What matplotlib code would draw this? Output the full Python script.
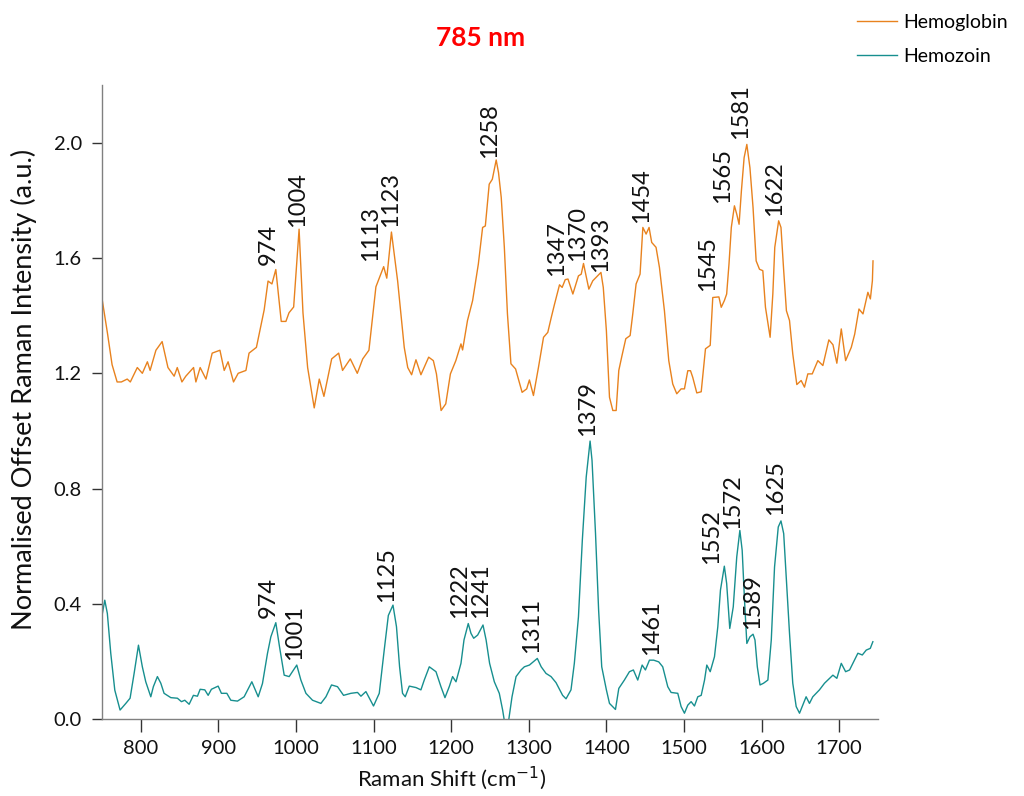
import matplotlib

matplotlib.use("Agg")
import matplotlib.pyplot as plt

plt.rcParams["font.family"] = ["Lato", "DejaVu Sans"]

# Hemoglobin spectrum (offset by ~1.2)
hb_shift = [
    750, 757, 763, 769.5, 775, 782.5, 786.5, 795.5, 802, 808.5, 812, 819.5,
    827.5, 835, 843, 847, 853, 858, 868, 871, 876.5, 884, 892, 902, 907.5,
    912.5, 919.5, 925.5, 935.5, 939.5, 949, 959, 964, 969, 974, 981, 987,
    991, 997, 1004, 1009, 1015, 1023.5, 1030, 1036, 1046, 1055, 1060, 1070,
    1079, 1086, 1094, 1103, 1113, 1117, 1123, 1131, 1135, 1139.5, 1144, 1149,
    1154.6, 1161, 1171, 1177, 1181, 1187, 1193, 1199, 1206, 1212.6, 1214.7,
    1221, 1227.6, 1235, 1240.5, 1244, 1249, 1253, 1258, 1261, 1264.5, 1268.5,
    1272.5, 1277, 1283, 1291.4, 1297.3, 1300.8, 1306, 1312.5, 1319, 1324.5,
    1329, 1333, 1339.6, 1343, 1347, 1350.5, 1356.8, 1364, 1367.6, 1370.5,
    1377.4, 1382.5, 1393, 1396, 1400, 1404, 1408.3, 1412.6, 1416, 1420, 1425,
    1430.6, 1434, 1438.3, 1443.4, 1447, 1451.2, 1455, 1458.4, 1464, 1468.4,
    1474.8, 1480.4, 1485.5, 1490.7, 1496.3, 1500.6, 1504.9, 1508.4, 1511.3,
    1516.5, 1522.2, 1527.7, 1533.8, 1537.1, 1545, 1548, 1552, 1555, 1558,
    1561, 1565, 1568, 1571, 1574, 1577.5, 1581, 1585, 1589, 1593, 1597.3,
    1601.6, 1605, 1611, 1614.5, 1617, 1622, 1625, 1628.5, 1632, 1636, 1640.2,
    1645.4, 1651, 1655.3, 1659.6, 1665.3, 1672.5, 1679, 1686.7, 1692, 1697,
    1702.7, 1708.3, 1715.6, 1720, 1725.5, 1730.7, 1737, 1740.2, 1742.8, 1743.6,
]
hb_intensity = [
    1.46, 1.34, 1.23, 1.17, 1.17, 1.18, 1.17, 1.22, 1.20, 1.24, 1.21, 1.28,
    1.31, 1.22, 1.19, 1.22, 1.17, 1.19, 1.22, 1.17, 1.22, 1.18, 1.27, 1.28,
    1.21, 1.24, 1.17, 1.20, 1.21, 1.27, 1.29, 1.42, 1.52, 1.51, 1.56, 1.38,
    1.38, 1.41, 1.43, 1.70, 1.41, 1.22, 1.08, 1.18, 1.12, 1.25, 1.27, 1.21,
    1.25, 1.20, 1.25, 1.28, 1.50, 1.57, 1.53, 1.69, 1.52, 1.41, 1.29, 1.22,
    1.195, 1.247, 1.195, 1.256, 1.244, 1.198, 1.071, 1.094, 1.198, 1.244,
    1.302, 1.281, 1.383, 1.452, 1.579, 1.706, 1.711, 1.856, 1.873, 1.94,
    1.896, 1.81, 1.637, 1.406, 1.233, 1.215, 1.134, 1.146, 1.177, 1.123,
    1.221, 1.325, 1.342, 1.394, 1.438, 1.507, 1.498, 1.525, 1.527, 1.475,
    1.538, 1.544, 1.581, 1.492, 1.521, 1.550, 1.498, 1.348, 1.117, 1.071,
    1.071, 1.21, 1.26, 1.32, 1.331, 1.406, 1.51, 1.544, 1.706, 1.683, 1.706,
    1.654, 1.637, 1.567, 1.417, 1.244, 1.163, 1.129, 1.146, 1.146, 1.209,
    1.209, 1.186, 1.132, 1.136, 1.285, 1.297, 1.463, 1.465, 1.429, 1.452,
    1.475, 1.579, 1.706, 1.781, 1.752, 1.717, 1.833, 1.948, 1.994, 1.913,
    1.775, 1.59, 1.561, 1.556, 1.429, 1.325, 1.475, 1.637, 1.729, 1.706,
    1.556, 1.417, 1.383, 1.267, 1.161, 1.175, 1.152, 1.198, 1.198, 1.244,
    1.227, 1.316, 1.299, 1.235, 1.354, 1.244, 1.290, 1.336, 1.423, 1.406,
    1.481, 1.458, 1.521, 1.590,
]

# Hemozoin spectrum
hz_shift = [
    750.5, 753.6, 756.9, 761.3, 766.5, 773.3, 780.7, 786.2, 791.4, 797, 802,
    806.4, 812.9, 816.2, 821.4, 825.8, 830, 838.7, 847.2, 852.4, 856.7, 862.3,
    867.8, 873, 876.5, 882.5, 886.8, 891, 899.7, 903.9, 910.9, 916, 924.6,
    933.2, 943.1, 951.3, 956.8, 963.3, 967.6, 974, 978.8, 984.8, 991.2,
    996.8, 1001, 1006.3, 1012.8, 1021.3, 1032.1, 1038.6, 1045.8, 1053.5,
    1061.3, 1070.8, 1079.3, 1083.7, 1090.1, 1099.9, 1107.3, 1113.7, 1119,
    1125, 1129.5, 1133.5, 1137.3, 1140.8, 1146, 1154.6, 1161, 1165.3, 1171.8,
    1180.4, 1186.8, 1192, 1197.5, 1201.8, 1206.2, 1212.6, 1216.5, 1222,
    1225.5, 1229, 1234.1, 1241, 1245, 1249.5, 1255.6, 1262, 1266.3, 1268.5,
    1274, 1278.4, 1283.6, 1290, 1294.3, 1300.8, 1311, 1316, 1322.2, 1328.7,
    1335.1, 1343.6, 1348, 1354.4, 1358.7, 1364, 1369, 1374, 1379, 1381.5,
    1386, 1390, 1394, 1400, 1404, 1411.7, 1416, 1423.2, 1429.7, 1434.8,
    1440.4, 1446.1, 1450.3, 1455.5, 1461, 1467.5, 1472.6, 1479.1, 1483.4,
    1492, 1496.3, 1500.6, 1504.9, 1509.2, 1513.5, 1517.8, 1522.2, 1526.5,
    1529.4, 1533.8, 1539.3, 1543.6, 1547, 1552, 1555, 1559, 1563.5, 1568,
    1572, 1575, 1578, 1581, 1585, 1589, 1591.5, 1594.5, 1598, 1602.5, 1608.1,
    1612.5, 1616.7, 1621.5, 1625, 1628.5, 1632, 1636, 1640.2, 1644.6, 1648.9,
    1653.1, 1657.4, 1661.7, 1666, 1674.6, 1681.1, 1685.4, 1691.9, 1697,
    1702.7, 1708.3, 1713.4, 1718.6, 1724.1, 1729.8, 1734.9, 1740.1, 1743.4,
]
hz_intensity = [
    0.367, 0.413, 0.367, 0.229, 0.101, 0.032, 0.055, 0.073, 0.159, 0.257,
    0.182, 0.130, 0.078, 0.113, 0.148, 0.125, 0.090, 0.075, 0.073, 0.061,
    0.066, 0.052, 0.083, 0.080, 0.104, 0.102, 0.083, 0.104, 0.115, 0.090,
    0.090, 0.066, 0.063, 0.078, 0.130, 0.078, 0.124, 0.229, 0.286, 0.335,
    0.251, 0.153, 0.148, 0.171, 0.188, 0.136, 0.090, 0.066, 0.055, 0.078,
    0.119, 0.113, 0.083, 0.090, 0.093, 0.080, 0.096, 0.046, 0.090, 0.240,
    0.36, 0.396, 0.321, 0.182, 0.090, 0.078, 0.115, 0.110, 0.102, 0.136,
    0.182, 0.165, 0.113, 0.075, 0.113, 0.148, 0.130, 0.194, 0.275, 0.332,
    0.298, 0.281, 0.292, 0.327, 0.275, 0.194, 0.130, 0.090, 0.032, -0.005,
    -0.005, 0.078, 0.148, 0.171, 0.182, 0.188, 0.211, 0.182, 0.159, 0.148,
    0.127, 0.083, 0.071, 0.102, 0.194, 0.355, 0.621, 0.840, 0.965, 0.898,
    0.644, 0.378, 0.182, 0.102, 0.055, 0.034, 0.107, 0.136, 0.165, 0.171,
    0.136, 0.188, 0.171, 0.205, 0.205, 0.199, 0.182, 0.113, 0.093, 0.090,
    0.044, 0.021, 0.049, 0.061, 0.046, 0.078, 0.083, 0.136, 0.188, 0.165,
    0.217, 0.321, 0.448, 0.531, 0.471, 0.315, 0.390, 0.563, 0.655, 0.586,
    0.413, 0.263, 0.286, 0.295, 0.275, 0.182, 0.119, 0.125, 0.136, 0.275,
    0.528, 0.667, 0.688, 0.644, 0.482, 0.298, 0.125, 0.044, 0.021, 0.049,
    0.078, 0.055, 0.078, 0.102, 0.125, 0.136, 0.153, 0.142, 0.194, 0.165,
    0.171, 0.199, 0.229, 0.223, 0.240, 0.246, 0.269,
]

# peak annotations: (label, x, y) with y at the bottom of the rotated text
hb_peaks = [
    ("974", 964, 1.575), ("1004", 1001.5, 1.708), ("1113", 1096.6, 1.59),
    ("1123", 1121.2, 1.708), ("1258", 1249.8, 1.948), ("1347", 1335.1, 1.538),
    ("1370", 1362.6, 1.59), ("1393", 1392, 1.55), ("1454", 1445.5, 1.72),
    ("1545", 1530.6, 1.484), ("1565", 1549.6, 1.792), ("1581", 1572.8, 2.012),
    ("1622", 1616.6, 1.746),
]
hz_peaks = [
    ("974", 964.8, 0.35), ("1001", 997.7, 0.205), ("1125", 1116.3, 0.407),
    ("1222", 1210.4, 0.35), ("1241", 1238.4, 0.35), ("1311", 1303.3, 0.229),
    ("1379", 1375.5, 0.981), ("1461", 1458.7, 0.223), ("1552", 1535.8, 0.54),
    ("1572", 1562.9, 0.661), ("1589", 1588, 0.312), ("1625", 1618.3, 0.707),
]

HB_COLOR = "#E8821E"
HZ_COLOR = "#178F8F"

fig = plt.figure(figsize=(10.24, 7.96), dpi=100)
ax = fig.add_axes([0.0996, 0.0964, 0.7578, 0.7968])

hb_line, = ax.plot(hb_shift, hb_intensity, color=HB_COLOR, linewidth=1.0)
hz_line, = ax.plot(hz_shift, hz_intensity, color=HZ_COLOR, linewidth=1.0)

for label, x, y in hb_peaks + hz_peaks:
    ax.text(x, y, label, rotation=90, ha="center", va="bottom", fontsize=17,
            color="#111111")

ax.set_xlim(750, 1750)
ax.set_ylim(0, 2.2)
ax.set_xticks(range(800, 1701, 100))
ax.set_yticks([0.0, 0.4, 0.8, 1.2, 1.6, 2.0])
ax.set_yticklabels(["0.0", "0.4", "0.8", "1.2", "1.6", "2.0"])

for side in ("top", "right"):
    ax.spines[side].set_visible(False)
for side in ("left", "bottom"):
    ax.spines[side].set_color("#808080")
    ax.spines[side].set_linewidth(1.0)
ax.tick_params(axis="both", direction="out", colors="#333333", labelsize=14.5,
               labelcolor="#111111", width=1.0)
ax.tick_params(axis="x", length=9, pad=6)
ax.tick_params(axis="y", length=7, pad=7.5)

ax.set_xlabel(r"Raman Shift (cm$^{-1}$)", fontsize=16, color="#111111")
ax.set_ylabel("Normalised Offset Raman Intensity (a.u.)", fontsize=19.5,
              color="#111111")
ax.xaxis.set_label_coords(0.451, -0.072)
ax.yaxis.set_label_coords(-0.084, 0.52)

fig.text(481 / 1024, 1 - 38 / 796, "785 nm", ha="center", va="center",
         color="red", fontweight="bold", fontsize=19)

fig.legend([hb_line, hz_line], ["Hemoglobin", "Hemozoin"], loc="upper left",
           bbox_to_anchor=(0.824, 1.0), frameon=False, fontsize=14,
           handlelength=2.05, handletextpad=0.3, labelspacing=0.9,
           borderpad=0.2)

fig.savefig("out.png", dpi=100)
